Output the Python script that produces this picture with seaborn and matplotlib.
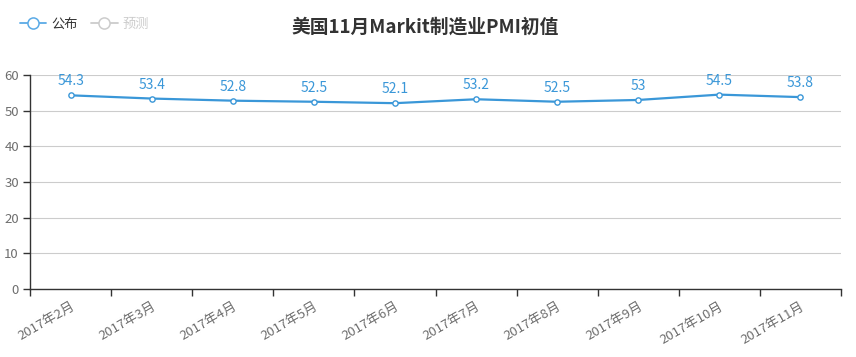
import matplotlib
matplotlib.use("Agg")
import matplotlib.pyplot as plt
from matplotlib.lines import Line2D
import seaborn as sns
import pandas as pd
import numpy as np

months = ["2017年2月", "2017年3月", "2017年4月", "2017年5月", "2017年6月",
          "2017年7月", "2017年8月", "2017年9月", "2017年10月", "2017年11月"]
published = [54.3, 53.4, 52.8, 52.5, 52.1, 53.2, 52.5, 53, 54.5, 53.8]
value_labels = ["54.3", "53.4", "52.8", "52.5", "52.1", "53.2", "52.5", "53", "54.5", "53.8"]
y_ticks = [0, 10, 20, 30, 40, 50, 60]
title = "美国11月Markit制造业PMI初值"
legend_names = ["公布", "预测"]

sns.set_theme(style="white")
plt.rcParams['font.family'] = ['Noto Sans CJK SC', 'DejaVu Sans']

blue = "#3a97d8"
grey_txt = "#6e6e6e"

df = pd.DataFrame({"pos": np.arange(len(months)), "val": published})

fig = plt.figure(figsize=(8.56, 3.57), dpi=100)
ax = fig.add_axes([30/856, 1-289/357, (841-30)/856, (289-75)/357])

sns.lineplot(data=df, x="pos", y="val", ax=ax, color=blue, linewidth=1.6,
             marker="o", markersize=3.8, markerfacecolor="white",
             markeredgecolor=blue, markeredgewidth=1.0, zorder=3)

for x, v, t in zip(df["pos"], published, value_labels):
    ax.annotate(t, (x, v), xytext=(0, 5), textcoords="offset points",
                ha="center", va="bottom", color=blue, fontsize=10)

ax.set_xlim(-0.5, len(months) - 0.5)
ax.set_ylim(0, 60)
ax.set_yticks(y_ticks)
ax.set_yticklabels([str(v) for v in y_ticks], color=grey_txt, fontsize=9.5)
ax.yaxis.grid(True, color="#cccccc", linewidth=0.8)
ax.xaxis.grid(False)

ax.set_xticks(np.arange(len(months) + 1) - 0.5)
ax.set_xticklabels([])
ax.set_xticks(np.arange(len(months)), minor=True)
ax.set_xticklabels(months, minor=True, rotation=30, ha="right",
                   rotation_mode="anchor", color=grey_txt, fontsize=9.5)
ax.tick_params(axis="x", which="major", length=5, width=1, color="#333333", direction="out", bottom=True)
ax.tick_params(axis="x", which="minor", length=0, pad=8)
ax.tick_params(axis="y", length=5, width=1, color="#333333", direction="out", left=True, pad=3)
ax.set_xlabel("")
ax.set_ylabel("")

for s in ["top", "right"]:
    ax.spines[s].set_visible(False)
for s in ["left", "bottom"]:
    ax.spines[s].set_color("#333333")
    ax.spines[s].set_linewidth(1)

fig.text(425/856, 1-27/357, title, ha="center", va="center",
         fontsize=13.5, fontweight="bold", color="#333333")

handles = [
    Line2D([0], [0], color="#5aaae6", lw=1.3, marker="o", markersize=8,
           markerfacecolor="white", markeredgecolor="#5aaae6", markeredgewidth=1.1),
    Line2D([0], [0], color="#cccccc", lw=1.3, marker="o", markersize=8,
           markerfacecolor="white", markeredgecolor="#cccccc", markeredgewidth=1.1),
]
leg = fig.legend(handles, legend_names, loc="center left",
                 bbox_to_anchor=(8/856, 1-24/357), ncol=2, frameon=False,
                 fontsize=9.5, handlelength=2.0, handletextpad=0.4, columnspacing=1.0)
leg.get_texts()[0].set_color("#333333")
leg.get_texts()[1].set_color("#cccccc")

fig.savefig("out.png", dpi=100)
